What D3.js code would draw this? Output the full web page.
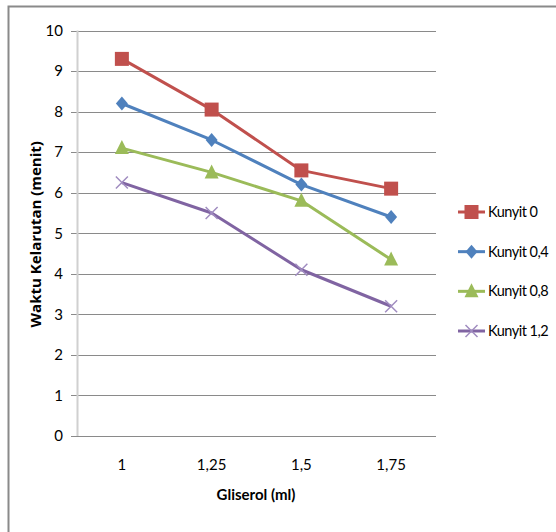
<!DOCTYPE html>
<html>
<head>
<meta charset="utf-8">
<script src="https://cdn.jsdelivr.net/npm/d3@7"></script>
<style>
  html, body { margin: 0; padding: 0; background: #fff; }
  svg { display: block; }
  text { font-family: Lato, "Open Sans", sans-serif; fill: #000; }
</style>
</head>
<body>
<script>
// ─── data ────────────────────────────────────────────────────────────────────
const categories = ['1', '1,25', '1,5', '1,75'];
const yTicks = [0, 1, 2, 3, 4, 5, 6, 7, 8, 9, 10];
const seriesNames = ['Kunyit 0', 'Kunyit 0,4', 'Kunyit 0,8', 'Kunyit 1,2'];
const kunyit0 = [9.3, 8.05, 6.55, 6.1];
const kunyit04 = [8.2, 7.3, 6.2, 5.4];
const kunyit08 = [7.1, 6.5, 5.8, 4.35];
const kunyit12 = [6.25, 5.5, 4.1, 3.2];

const colors = ['#C0504D', '#4F81BD', '#9BBB59', '#8064A2'];
const markers = ['square', 'diamond', 'triangle', 'x'];
const seriesValues = [kunyit0, kunyit04, kunyit08, kunyit12];

// ─── layout ──────────────────────────────────────────────────────────────────
const W = 556, H = 532;
const plot = { left: 77, right: 436, top: 30.5, bottom: 436 };

const svg = d3.select('body').append('svg').attr('width', W).attr('height', H);

// outer chart frame (cut off at right and bottom in the reference)
svg.append('path')
  .attr('d', `M8.5,${H + 2}V6.5H${W + 2}`)
  .attr('fill', 'none')
  .attr('stroke', '#8a8a8a')
  .attr('stroke-width', 2);

const x = d3.scaleBand().domain(categories).range([plot.left, plot.right]);
const y = d3.scaleLinear().domain([0, 10]).range([plot.bottom, plot.top]);
const cx = (c) => x(c) + x.bandwidth() / 2;

// gridlines
svg.append('g')
  .selectAll('line')
  .data(yTicks)
  .join('line')
  .attr('x1', plot.left - 6)
  .attr('x2', plot.right)
  .attr('y1', (d) => Math.round(y(d)) + 0.5)
  .attr('y2', (d) => Math.round(y(d)) + 0.5)
  .attr('stroke', '#8a8a8a')
  .attr('stroke-width', 1);

// left axis line
svg.append('line')
  .attr('x1', plot.left + 0.5).attr('x2', plot.left + 0.5)
  .attr('y1', plot.top).attr('y2', plot.bottom)
  .attr('stroke', '#d0d0d0').attr('stroke-width', 2);

// y tick labels
svg.append('g')
  .selectAll('text')
  .data(yTicks)
  .join('text')
  .attr('x', 63)
  .attr('y', (d) => y(d))
  .attr('dy', '0.35em')
  .attr('text-anchor', 'end')
  .attr('font-size', 15)
  .text((d) => d);

// x tick labels
svg.append('g')
  .selectAll('text')
  .data(categories)
  .join('text')
  .attr('x', (d) => cx(d))
  .attr('y', 470)
  .attr('text-anchor', 'middle')
  .attr('font-size', 15)
  .text((d) => d);

// axis titles
svg.append('text')
  .attr('x', 256).attr('y', 500)
  .attr('text-anchor', 'middle')
  .attr('font-size', 15).attr('font-weight', 'bold')
  .text('Gliserol (ml)');

svg.append('text')
  .attr('transform', `translate(41,${(plot.top + plot.bottom) / 2 + 1}) rotate(-90)`)
  .attr('text-anchor', 'middle')
  .attr('font-size', 15).attr('font-weight', 'bold')
  .style('font-family', '"Open Sans", sans-serif')
  .text('Waktu Kelarutan (menit)');

// ─── markers ─────────────────────────────────────────────────────────────────
function drawMarker(g, type, px, py, color) {
  if (type === 'square') {
    g.append('rect').attr('x', px - 7).attr('y', py - 7).attr('width', 14).attr('height', 14)
      .attr('fill', color);
  } else if (type === 'diamond') {
    g.append('path').attr('d', `M${px},${py - 7}L${px + 6},${py}L${px},${py + 7}L${px - 6},${py}Z`)
      .attr('fill', color);
  } else if (type === 'triangle') {
    g.append('path').attr('d', `M${px},${py - 8}L${px + 7},${py + 6}L${px - 7},${py + 6}Z`)
      .attr('fill', color);
  } else {
    g.append('path').attr('d', `M${px - 6},${py - 6}L${px + 6},${py + 6}M${px + 6},${py - 6}L${px - 6},${py + 6}`)
      .attr('stroke', '#a08cc0').attr('stroke-width', 1.5).attr('fill', 'none');
  }
}

// ─── series ──────────────────────────────────────────────────────────────────
const line = d3.line().x((d, i) => cx(categories[i])).y((d) => y(d));

seriesValues.forEach((vals, s) => {
  const g = svg.append('g');
  g.append('path')
    .datum(vals)
    .attr('d', line)
    .attr('fill', 'none')
    .attr('stroke', colors[s])
    .attr('stroke-width', 3)
    .attr('stroke-linejoin', 'round');
  vals.forEach((v, i) => drawMarker(g, markers[s], cx(categories[i]), y(v), colors[s]));
});

// ─── legend ──────────────────────────────────────────────────────────────────
const legendY = d3.scalePoint().domain(seriesNames).range([212, 331]);
seriesNames.forEach((name, s) => {
  const g = svg.append('g');
  const ly = legendY(name);
  g.append('line').attr('x1', 458).attr('x2', 485).attr('y1', ly).attr('y2', ly)
    .attr('stroke', colors[s]).attr('stroke-width', 3);
  drawMarker(g, markers[s], 471.5, ly, colors[s]);
  g.append('text').attr('x', 488).attr('y', ly).attr('dy', '0.35em')
    .attr('font-size', 14.5).attr('letter-spacing', -0.5).text(name);
});
</script>
</body>
</html>
